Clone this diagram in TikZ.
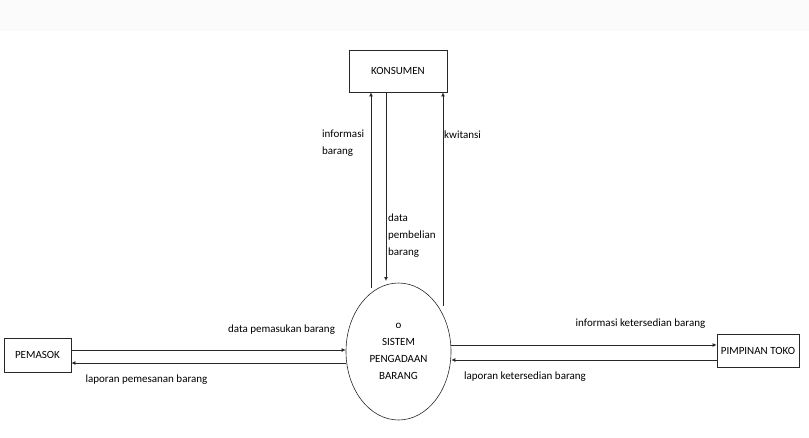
\documentclass[tikz,border=0pt]{standalone}
\usepackage{fontspec}
\setmainfont{Carlito}
\usetikzlibrary{arrows.meta,positioning,shapes.geometric,calc}
\definecolor{dfdTopGray}{RGB}{251,251,251}
\definecolor{dfdLine}{RGB}{40,40,40}

\begin{document}
\begin{tikzpicture}[
  x=1pt, y=-1pt,
  font=\fontsize{11}{17}\selectfont,
  entity/.style={draw=dfdLine, line width=0.8pt, inner sep=0pt},
  process/.style={draw=dfdLine, ellipse, line width=0.6pt, minimum width=105pt, minimum height=137pt, align=center, inner sep=0pt},
  arrow/.style={-{Latex[length=4pt,width=4pt]}, line width=0.8pt, draw=dfdLine},
  flow/.style={align=left, inner sep=0pt}
]
\useasboundingbox (0,0) rectangle (809,437);
\fill[dfdTopGray] (0,0) rectangle (809,31);

% entities and process
\node[entity, minimum width=98pt, minimum height=42pt] (konsumen) at (398,71) {KONSUMEN};
\node[entity, minimum width=67pt, minimum height=34pt] (pemasok) at (37.5,355) {PEMASOK};
\node[entity, minimum width=82pt, minimum height=33pt] (pimpinan) at (758,350.5) {PIMPINAN TOKO};
\node[process] (sistem) at (398.5,351.5) {o\\SISTEM\\PENGADAAN\\BARANG};

% flows konsumen
\coordinate (infoStart) at (371,288);
\coordinate (beliEnd) at (386,281);
\coordinate (kwitStart) at (443,306);
\draw[arrow] (infoStart) -- (infoStart |- konsumen.south);
\draw[arrow] (beliEnd |- konsumen.south) -- (beliEnd);
\draw[arrow] (kwitStart) -- (kwitStart |- konsumen.south);
\node[flow, anchor=west] (infoLbl) at (322,143.5) {informasi\\barang};
\node[flow, anchor=west] (kwitLbl) at (444,135) {kwitansi};
\node[flow, anchor=west] (beliLbl) at (388,236) {data\\pembelian\\barang};

% flows pemasok
\draw[arrow] ([yshift=5pt]pemasok.east) -- ([yshift=5pt]pemasok.east -| sistem.west);
\draw[arrow] ([yshift=-8pt]pemasok.east -| sistem.west) -- ([yshift=-8pt]pemasok.east);
\node[flow] (masukLbl) at (281.5,330) {data pemasukan barang};
\node[flow] (pesanLbl) at (146.5,380) {laporan pemesanan barang};

% flows pimpinan
\draw[arrow] ([yshift=5.5pt]pimpinan.west -| sistem.east) -- ([yshift=5.5pt]pimpinan.west);
\draw[arrow] ([yshift=-9.5pt]pimpinan.west) -- ([yshift=-9.5pt]pimpinan.west -| sistem.east);
\node[flow] (infoSediaLbl) at (640.5,324) {informasi ketersedian barang};
\node[flow] (lapSediaLbl) at (525,377) {laporan ketersedian barang};
\end{tikzpicture}
\end{document}
